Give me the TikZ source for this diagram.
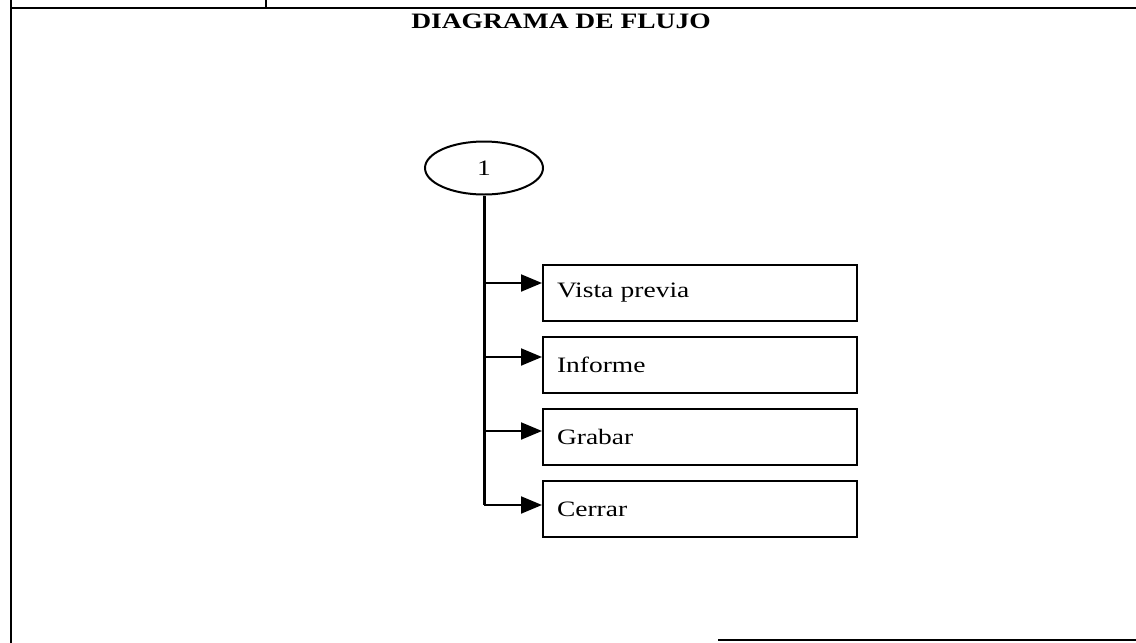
\documentclass[tikz,border=0pt]{standalone}
\usepackage{fontspec}
\setmainfont{Liberation Serif}[FakeStretch=1.25]
\usetikzlibrary{shapes.geometric,arrows.meta}

\begin{document}
\begin{tikzpicture}[
    x=0.5pt, y=-0.5pt,
    font=\fontsize{11}{13}\selectfont,
    caja/.style={rectangle, draw, line width=1pt, text width=143pt, inner xsep=7pt, minimum height=28pt, align=left},
    elipse/.style={ellipse, draw, line width=1pt, minimum width=59pt, minimum height=26.5pt},
    flecha/.style={-{Triangle[length=10.5pt,width=8.5pt]}, line width=1pt},
    marco/.style={line width=0.8pt},
]
\useasboundingbox (0,0) rectangle (1136,643);
% marco de la hoja
\draw[marco] (11,0) -- (11,643);
\draw[marco] (11,8) -- (1136,8);
\draw[marco] (266,0) -- (266,8);
\draw[marco] (718,640) -- (1136,640);
\node[font=\fontsize{11}{13}\selectfont\bfseries] (T) at (561,21) {DIAGRAMA DE FLUJO};

\node[elipse] (E1) at (484,168) {1};
\node[caja] (B1) at (700,293) {Vista previa};
\node[caja] (B2) at (700,365) {Informe};
\node[caja] (B3) at (700,437) {Grabar};
\node[caja] (B4) at (700,509) {Cerrar};

\coordinate (A1) at ([yshift=5pt]B1.west);
\coordinate (A2) at ([yshift=4pt]B2.west);
\coordinate (A3) at ([yshift=3pt]B3.west);
\coordinate (A4) at ([yshift=2pt]B4.west);

\draw[line width=1.5pt] (E1.south) -- (A4 -| E1.south);
\draw[flecha] (A1 -| E1.south) -- (A1);
\draw[flecha] (A2 -| E1.south) -- (A2);
\draw[flecha] (A3 -| E1.south) -- (A3);
\draw[flecha] (A4 -| E1.south) -- (A4);
\end{tikzpicture}
\end{document}
